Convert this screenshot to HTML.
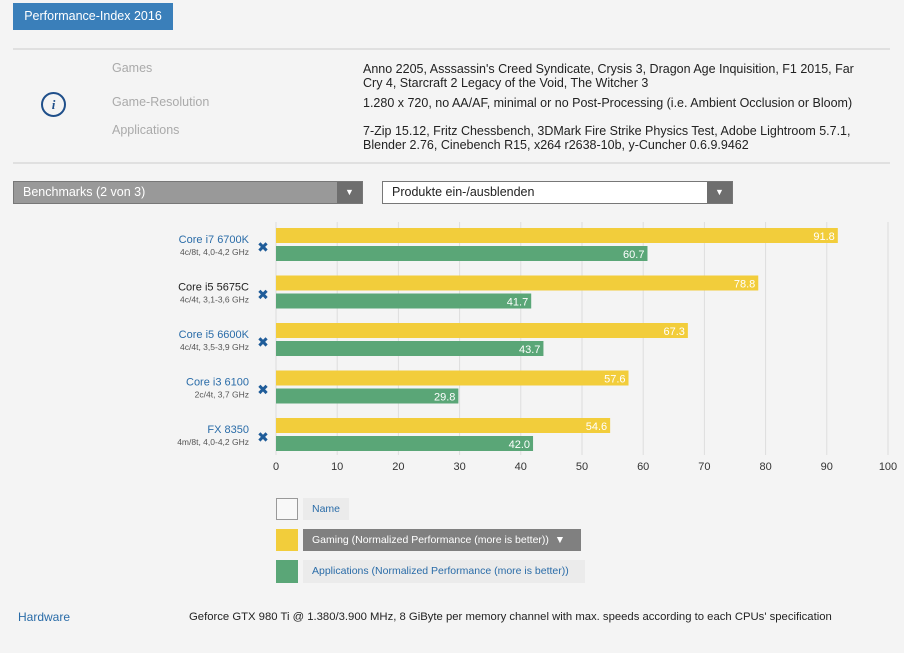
<!DOCTYPE html>
<html><head><meta charset="utf-8"><style>
body{margin:0;width:904px;height:653px;background:#f4f4f4;font-family:"Liberation Sans",sans-serif;position:relative;overflow:hidden;color:#222}
.abs{position:absolute}
.lbl{color:#aaa;font-size:12.5px}
.val{font-size:12.5px;color:#222;line-height:14px}
.hr{position:absolute;left:13px;width:877px;height:2px;background:#e0e0e0}
</style></head><body>
<div class="abs" style="left:13px;top:3px;width:160px;height:27px;background:#3a7fba;color:#fff;font-size:12.5px;line-height:27px;text-align:center">Performance-Index 2016</div>
<div class="hr" style="top:48px"></div>
<div class="abs" style="left:41px;top:92px;width:25px;height:25px;border:2px solid #1f4f8a;border-radius:50%;box-sizing:border-box;color:#1f4f8a;font:italic bold 13px 'Liberation Serif',serif;text-align:center;line-height:21px">i</div>
<div class="abs lbl" style="left:112px;top:61px">Games</div>
<div class="abs lbl" style="left:112px;top:95px">Game-Resolution</div>
<div class="abs lbl" style="left:112px;top:123px">Applications</div>
<div class="abs val" style="left:363px;top:62px;width:505px">Anno 2205, Asssassin's Creed Syndicate, Crysis 3, Dragon Age Inquisition, F1 2015, Far Cry 4, Starcraft 2 Legacy of the Void, The Witcher 3</div>
<div class="abs val" style="left:363px;top:96px">1.280 x 720, no AA/AF, minimal or no Post-Processing (i.e. Ambient Occlusion or Bloom)</div>
<div class="abs val" style="left:363px;top:124px;width:520px">7-Zip 15.12, Fritz Chessbench, 3DMark Fire Strike Physics Test, Adobe Lightroom 5.7.1, Blender 2.76, Cinebench R15, x264 r2638-10b, y-Cuncher 0.6.9.9462</div>
<div class="hr" style="top:162px"></div>
<div class="abs" style="left:13px;top:181px;width:350px;height:23px;background:#999;border:1px solid #777;color:#fff;font-size:12.5px;line-height:21px;padding-left:9px;box-sizing:border-box">Benchmarks (2 von 3)<span style="position:absolute;right:0;top:0;width:25px;height:21px;background:#6e6e6e;text-align:center;font-size:9px">▼</span></div>
<div class="abs" style="left:382px;top:181px;width:351px;height:23px;background:#fff;border:1px solid #777;color:#222;font-size:12.5px;line-height:21px;padding-left:9px;box-sizing:border-box">Produkte ein-/ausblenden<span style="position:absolute;right:0;top:0;width:25px;height:21px;background:#6e6e6e;color:#fff;text-align:center;font-size:9px">▼</span></div>
<svg class="abs" style="left:0;top:0" width="904" height="653" id="chart"></svg>
<div class="abs" style="left:276px;top:498px;width:22px;height:22px;border:1px solid #999;box-sizing:border-box;background:#f8f8f8"></div>
<div class="abs" style="left:303px;top:498px;padding:0 9px;height:22px;line-height:22px;background:#ebebeb;color:#2a6ca8;font-size:10.5px">Name</div>
<div class="abs" style="left:276px;top:529px;width:22px;height:22px;background:#f2cd3b"></div>
<div class="abs" style="left:303px;top:529px;width:278px;padding-left:9px;box-sizing:border-box;height:22px;line-height:22px;background:#808080;color:#fff;font-size:10.5px">Gaming (Normalized Performance (more is better)) &nbsp;▼</div>
<div class="abs" style="left:276px;top:560px;width:22px;height:23px;background:#5aa677"></div>
<div class="abs" style="left:303px;top:560px;width:282px;padding-left:9px;box-sizing:border-box;height:23px;line-height:23px;background:#ebebeb;color:#2a6ca8;font-size:10.5px">Applications (Normalized Performance (more is better))</div>
<div class="abs" style="left:18px;top:610px;color:#2a6ca8;font-size:12px">Hardware</div>
<div class="abs" style="left:189px;top:611px;color:#222;font-size:11.3px">Geforce GTX 980 Ti @ 1.380/3.900 MHz, 8 GiByte per memory channel with max. speeds according to each CPUs' specification</div>
<script>
const cpus=["Core i7 6700K","Core i5 5675C","Core i5 6600K","Core i3 6100","FX 8350"];
const specs=["4c/8t, 4,0-4,2 GHz","4c/4t, 3,1-3,6 GHz","4c/4t, 3,5-3,9 GHz","2c/4t, 3,7 GHz","4m/8t, 4,0-4,2 GHz"];
const gaming=[91.8,78.8,67.3,57.6,54.6];
const apps=[60.7,41.7,43.7,29.8,42.0];
const ticks=[0,10,20,30,40,50,60,70,80,90,100];
const svg=document.getElementById('chart');const NS='http://www.w3.org/2000/svg';
const x=v=>276+v*6.12;const y=i=>228+i*47.5;
function mk(t,a,txt){const e=document.createElementNS(NS,t);for(const k in a)e.setAttribute(k,a[k]);if(txt!==undefined)e.textContent=txt;svg.appendChild(e);return e;}
ticks.forEach(t=>{
 const g=mk('line',{x1:x(t),x2:x(t),y1:222,y2:455,stroke:'#ddd','stroke-width':1});
 
 
 const l=mk('text',{x:x(t),y:470,'text-anchor':'middle','font-size':11,fill:'#333','font-family':'Liberation Sans'},t);
 
 
});
cpus.forEach((c,i)=>{
 const n=mk('text',{x:249,y:y(i)+15,'text-anchor':'end','font-size':11,fill:i==1?'#222':'#2a6ca8','font-family':'Liberation Sans'},c);
 
 
 const s=mk('text',{x:249,y:y(i)+27,'text-anchor':'end','font-size':8.5,fill:'#555','font-family':'Liberation Sans'},specs[i]);
 
 
 const r=mk('text',{x:263,y:y(i)+24,'text-anchor':'middle','font-size':14,'font-weight':'bold',fill:'#1f5c99','font-family':'DejaVu Sans'},'✖');
 
 
 const b1=mk('rect',{x:x(0),y:y(i),width:x(gaming[i])-x(0),height:15,fill:'#f2cd3b'});
 
 
 const v1=mk('text',{x:x(gaming[i])-3,y:y(i)+12,'text-anchor':'end','font-size':11,fill:'#fff','font-family':'Liberation Sans'},gaming[i].toFixed(1));
 
 
 const b2=mk('rect',{x:x(0),y:y(i)+18,width:x(apps[i])-x(0),height:15,fill:'#5aa677'});
 
 
 const v2=mk('text',{x:x(apps[i])-3,y:y(i)+30,'text-anchor':'end','font-size':11,fill:'#fff','font-family':'Liberation Sans'},apps[i].toFixed(1));
 
 
});
</script>
</body></html>
